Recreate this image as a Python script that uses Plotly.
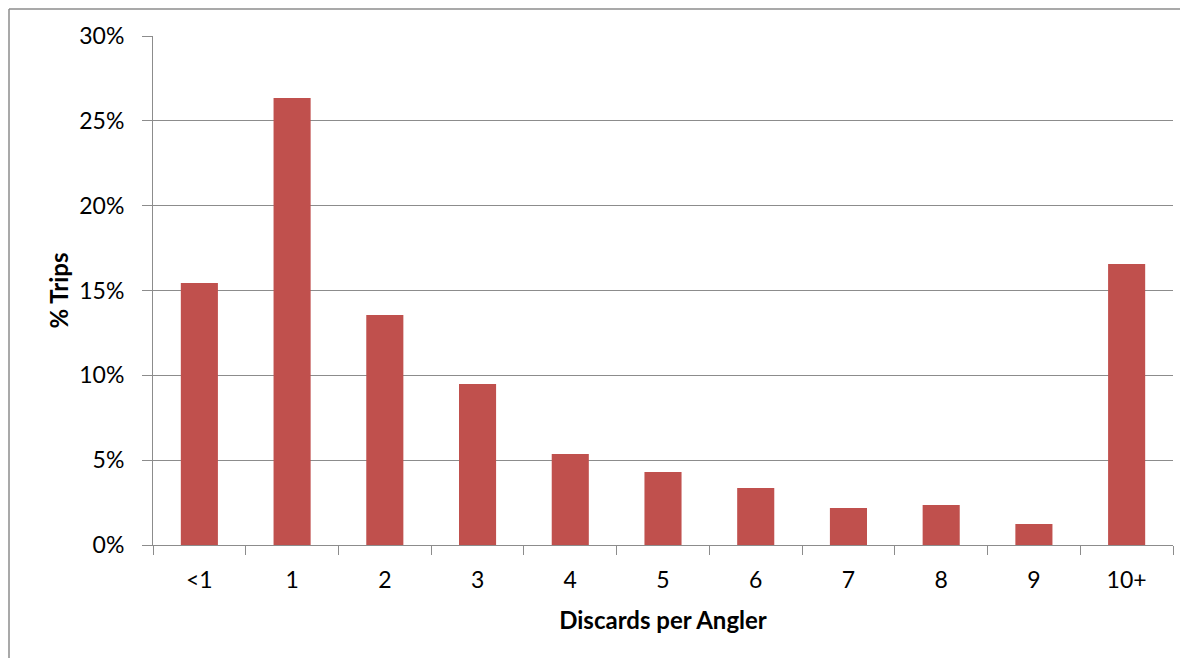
import plotly.graph_objects as go

categories = ["<1", "1", "2", "3", "4", "5", "6", "7", "8", "9", "10+"]
pct_trips = [0.1544, 0.2635, 0.1356, 0.0949, 0.0536, 0.0430, 0.0336, 0.0218, 0.0236, 0.0124, 0.1656]
y_ticks = [0, 0.05, 0.10, 0.15, 0.20, 0.25, 0.30]
y_tick_labels = ["0%", "5%", "10%", "15%", "20%", "25%", "30%"]

OFF = 8  # page body margin
W, H = 1188 - 2 * OFF, 666 - 2 * OFF
L, T = 153 - OFF, 36 - OFF
pw, ph = 1020, 509
R, B = W - L - pw, H - T - ph

font_family = "Lato, 'Open Sans', sans-serif"
grid = "#8c8c8c"

fig = go.Figure(go.Bar(x=categories, y=pct_trips, marker_color="#C0504D",
                       marker_line_width=0))

fig.update_layout(
    width=W, height=H,
    margin=dict(l=L, r=R, t=T, b=B),
    paper_bgcolor="white", plot_bgcolor="white",
    bargap=0.6,
    showlegend=False,
    font=dict(family=font_family, color="#000000"),
    xaxis=dict(
        type="category",
        showgrid=False,
        showline=True, linecolor=grid, linewidth=1,
        ticks="outside", tickson="boundaries", ticklen=9, tickcolor=grid,
        tickfont=dict(size=23, family=font_family),
        ticklabelstandoff=14,
        title=dict(text="<b>Discards per Angler</b>", font=dict(size=24, family=font_family), standoff=20),
    ),
    yaxis=dict(
        range=[0, 0.30],
        tickvals=y_ticks, ticktext=y_tick_labels,
        showgrid=True, gridcolor=grid, gridwidth=1,
        showline=True, linecolor=grid, linewidth=1,
        ticks="outside", ticklen=10, tickcolor=grid,
        tickfont=dict(size=23, family=font_family),
        ticklabelstandoff=13,
        zeroline=False,
        title=dict(text="<b>% Trips</b>", font=dict(size=24, family=font_family), standoff=3),
    ),
)

# outer chart border: only left and top edges are visible in the reference
bx = (1 - L) / pw
by = 1 + (T - 1) / ph
xr = 1 + (R + 10) / pw
yb = -(B + 10) / ph
fig.add_shape(type="line", xref="paper", yref="paper", x0=bx, x1=xr, y0=by, y1=by,
              line=dict(color="#8c8c8c", width=1.5), layer="below")
fig.add_shape(type="line", xref="paper", yref="paper", x0=bx, x1=bx, y0=yb, y1=by,
              line=dict(color="#8c8c8c", width=1.5), layer="below")

fig.write_html("out.html")
